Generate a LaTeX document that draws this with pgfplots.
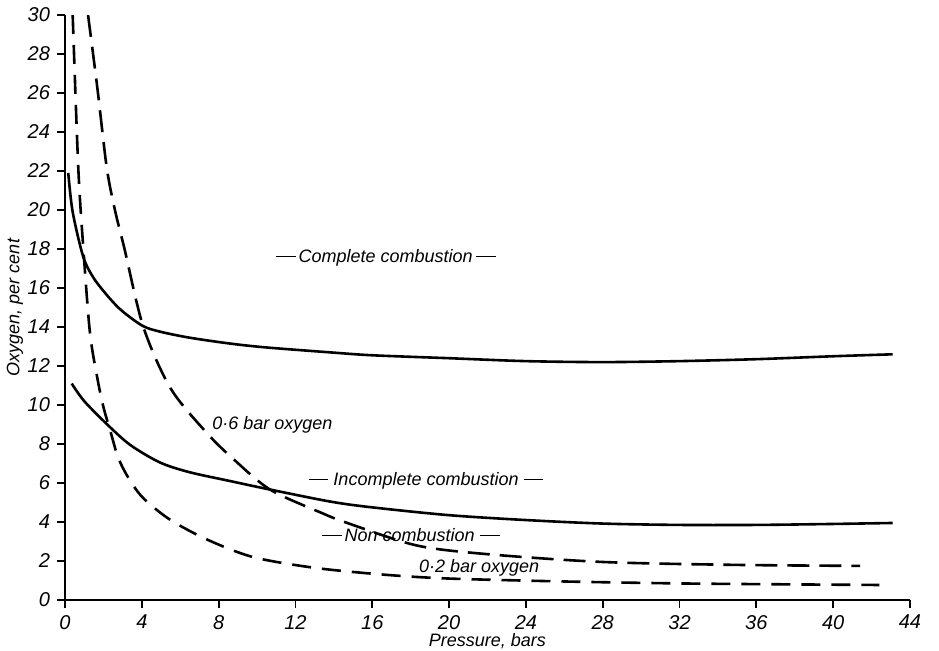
\documentclass[border=0pt]{standalone}
\usepackage{fontspec}
\setmainfont{Liberation Sans}
\usepackage{pgfplots}
\pgfplotsset{compat=1.18}
\usepackage{pgfplotstable}

\pgfplotstableread{
x y
0.17 21.9
0.4 19.9
0.95 17.6
1.5 16.5
2.3 15.5
3.0 14.8
4.06 14.05
5.0 13.75
6.5 13.45
8.6 13.15
10.5 12.95
13.8 12.7
16 12.55
20 12.4
24 12.25
28 12.2
32 12.25
36 12.35
40 12.5
43.1 12.6
}\complete

\pgfplotstableread{
x y
0.35 11.1
1.0 10.2
2.2 9.0
3.4 7.95
4.95 7.05
6.5 6.55
8.6 6.1
10.5 5.7
13.8 5.05
16 4.75
20 4.35
24 4.1
28 3.92
32 3.85
36 3.85
40 3.9
43.1 3.95
}\incomplete

\pgfplotstableread{
x y
1.2 30
1.68 26.3
2.17 22.2
2.6 20.0
3.1 18.0
4.08 14.0
5.5 10.85
7.4 8.55
8.8 7.2
10.7 5.65
13.4 4.45
14.7 3.95
18.3 2.8
22 2.35
28 1.95
35 1.8
41.4 1.75
}\sixbar

\pgfplotstableread{
x y
0.4 30
0.69 22.2
0.95 18.1
1.3 13.7
1.7 11.3
2.0 9.9
2.38 8.6
2.7 7.5
3.0 6.8
3.5 5.95
4.15 5.15
5.5 4.1
7.4 3.1
9.8 2.2
13 1.65
16.6 1.3
20 1.1
26 0.95
32 0.85
38 0.8
42.4 0.77
}\twobar

\newcommand{\dr}{\rule[0.3em]{1.1em}{0.7pt}}
\newcommand{\lab}{\fontsize{9}{10}\selectfont\itshape}
\newcommand{\tlab}{\fontsize{10}{11}\selectfont\itshape}

\begin{document}
\begin{tikzpicture}[x=1pt,y=1pt]
\path[use as bounding box] (0,0) rectangle (469.5,325);
\begin{axis}[
    at={(32.5pt,25pt)}, anchor=south west,
    scale only axis, width=422.5pt, height=292.5pt,
    xmin=0, xmax=44, ymin=0, ymax=30,
    axis lines*=left,
    axis line style={line width=0.9pt},
    xtick={0,4,...,44}, ytick={0,2,...,30},
    tick align=outside, major tick length=4pt,
    tick style={line width=0.9pt, black},
    ticklabel style={font=\tlab},
    /pgf/number format/assume math mode=true,
    xlabel={Pressure, bars}, ylabel={Oxygen, per cent},
    label style={font=\lab},
    xlabel style={at={(axis description cs:0.5,-0.0701)}, anchor=center},
    ylabel style={at={(axis description cs:-0.0592,0.5)}, anchor=center},
]
\addplot[black, line width=1.3pt, smooth] table {\complete};
\addplot[black, line width=1.3pt, smooth] table {\incomplete};
\addplot[black, line width=1.3pt, smooth, dash pattern=on 11pt off 5pt] table {\sixbar};
\addplot[black, line width=1.3pt, smooth, dash pattern=on 9.5pt off 5.5pt] table {\twobar};

\node[font=\lab] at (axis cs:16.7,17.55) {\dr\,Complete combustion\,\dr};
\node[font=\lab, anchor=west] at (axis cs:7.3,9.0) {0·6 bar oxygen};
\node[font=\lab] at (axis cs:18.8,6.1) {\dr\ Incomplete combustion \dr};
\node[font=\lab] at (axis cs:18.0,3.33) {\dr\,Non combustion \dr};
\node[font=\lab, anchor=west] at (axis cs:18.07,1.64) {0·2 bar oxygen};
\end{axis}
\end{tikzpicture}
\end{document}
